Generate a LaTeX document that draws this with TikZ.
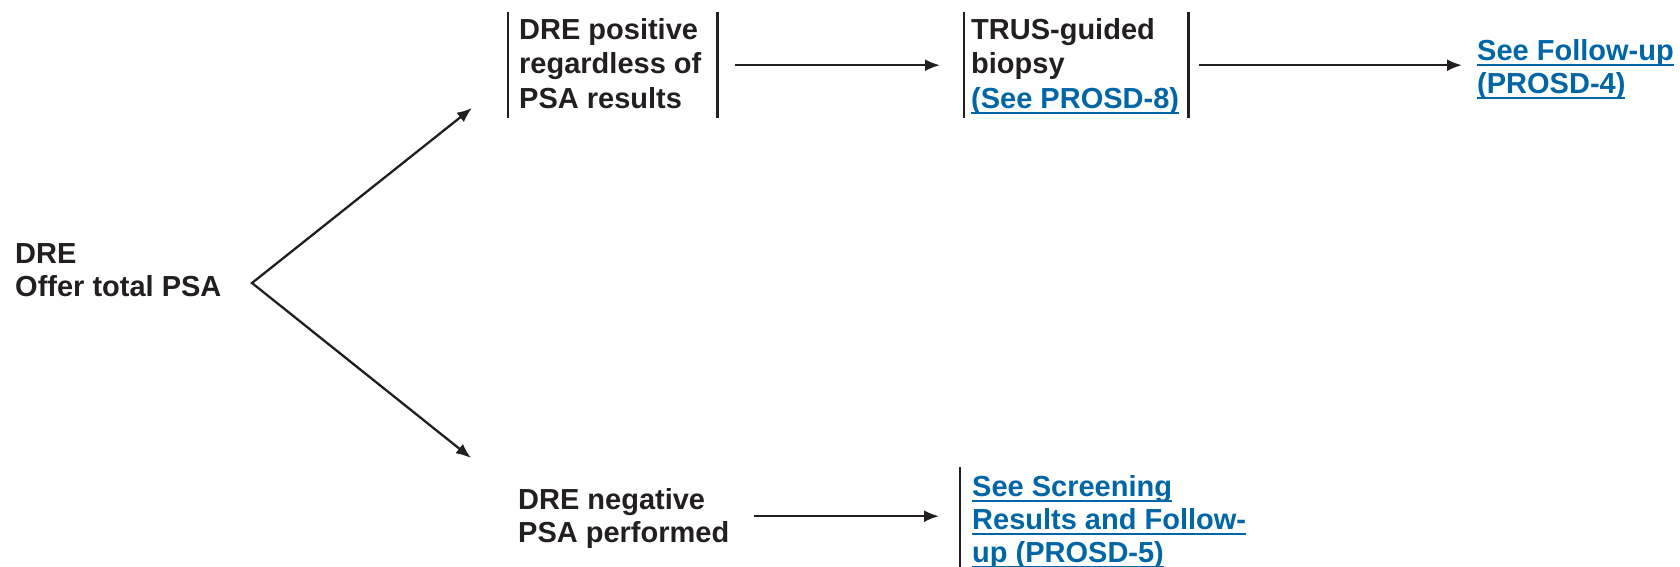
\documentclass[tikz,border=0pt]{standalone}
\usepackage{fontspec}
\setmainfont{Liberation Sans}
\usetikzlibrary{arrows.meta,calc}
\definecolor{lnkblue}{RGB}{0,102,166}
\definecolor{ink}{RGB}{35,31,32}
\newcommand\tstr[1]{\rule{0pt}{#1}}
\newcommand\bstr[1]{\rule[-#1]{0pt}{#1}}
\newcommand\lnk[1]{\leavevmode\setbox0\hbox{#1}\rlap{\rule[-6pt]{\wd0}{2pt}}\box0}
\begin{document}
\begin{tikzpicture}[x=1pt,y=-1pt,
  font=\fontsize{29}{33}\selectfont\bfseries,
  txt/.style={anchor=north west, inner sep=0pt, align=left, text=ink},
  barbox/.style={anchor=north west, inner ysep=0pt, align=flush left, text=ink},
  toprow/.style={font=\fontsize{29}{34.5}\selectfont\bfseries},
  bars/.style={line width=2.6pt, draw=ink},
  arr/.style={line width=2.3pt, draw=ink, -{Latex[length=15pt,width=12pt]}},
  biarr/.style={line width=2.3pt, draw=ink, line join=miter, {Latex[length=15pt,width=12pt]}-{Latex[length=15pt,width=12pt]}}]
\useasboundingbox (0,0) rectangle (1680,567);

% nodes
\node[txt] (start) at (15,238) {\tstr{25pt}DRE\\Offer total PSA};

\node[barbox, toprow, inner xsep=11pt, text width=187pt] (pos) at (508,12)
  {\tstr{27pt}DRE positive\\regardless of\\PSA results\bstr{10pt}};
\draw[bars] (pos.north west) -- (pos.south west) (pos.north east) -- (pos.south east);

\node[barbox, toprow, inner xsep=7pt, text width=210pt] (trus) at (964,12)
  {\tstr{27pt}TRUS-guided\\biopsy\\{\color{lnkblue}\lnk{(See PROSD-8)}}\bstr{10pt}};
\draw[bars] (trus.north west) -- (trus.south west) (trus.north east) -- (trus.south east);

\node[txt, text=lnkblue] (fu4) at (1477,35)
  {\tstr{25pt}\lnk{See Follow-up}\\\lnk{(PROSD-4)}};

\node[txt] (neg) at (518,484) {\tstr{25pt}DRE negative\\PSA performed};

\node[barbox, inner xsep=12pt, text=lnkblue] (fu5) at (960,467)
  {\tstr{29pt}\lnk{See Screening}\\\lnk{Results and Follow-}\\\lnk{up (PROSD-5)}\bstr{5pt}};
\draw[bars] (fu5.north west) -- (fu5.south west);

% connectors
\coordinate (split) at (252,283);
\coordinate (posin) at (472,108);
\coordinate (negin) at (471,458);
\draw[biarr] (posin) -- (split) -- (negin);
\draw[arr] ($(pos.east)+(18pt,0)$) -- ($(pos.east -| trus.west)+(-24pt,0)$);
\draw[arr] ($(trus.east)+(11pt,0)$) -- ($(trus.east -| fu4.west)+(-15pt,0)$);
\draw[arr] ($(neg.east)+(24pt,0)$) -- ($(neg.east -| fu5.west)+(-21pt,0)$);
\end{tikzpicture}
\end{document}
